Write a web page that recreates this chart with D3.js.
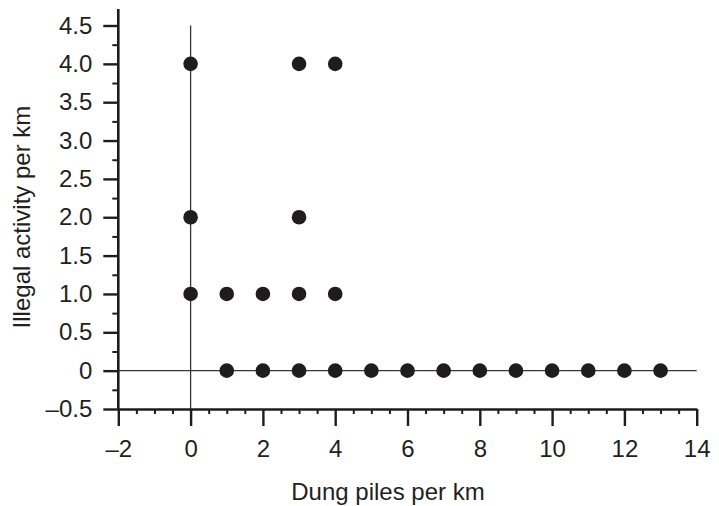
<!DOCTYPE html>
<html>
<head>
<meta charset="utf-8">
<script src="https://cdn.jsdelivr.net/npm/d3@7"></script>
<style>
  body { margin: 0; background: #fff; }
  text { font-family: "Liberation Sans", Arial, sans-serif; fill: #231f20; }
</style>
</head>
<body>
<div id="chart"></div>
<script>
var svgWidth = 719;
var svgHeight = 506;

// Data
var dungPiles = [0, 3, 4, 0, 3, 0, 1, 2, 3, 4, 1, 2, 3, 4, 5, 6, 7, 8, 9, 10, 11, 12, 13];
var illegalActivity = [4, 4, 4, 2, 2, 1, 1, 1, 1, 1, 0, 0, 0, 0, 0, 0, 0, 0, 0, 0, 0, 0, 0];

var xTicks = [-2, 0, 2, 4, 6, 8, 10, 12, 14];
var xTickLabels = ["\u20132", "0", "2", "4", "6", "8", "10", "12", "14"];
var yTicks = [-0.5, 0, 0.5, 1, 1.5, 2, 2.5, 3, 3.5, 4, 4.5];
var yTickLabels = ["\u20130.5", "0", "0.5", "1.0", "1.5", "2.0", "2.5", "3.0", "3.5", "4.0", "4.5"];

var points = dungPiles.map(function(d, i) {
  return { x: d, y: illegalActivity[i] };
});

var svg = d3.select("#chart")
  .append("svg")
  .attr("width", svgWidth)
  .attr("height", svgHeight);

var xScale = d3.scaleLinear().domain([-2, 14]).range([118.3, 696.7]);
var yScale = d3.scaleLinear().domain([-0.5, 4.5]).range([409, 25.5]);

var ink = "#1f1c1d";
var fontSize = 24;

// reference lines through the origin
svg.append("line")
  .attr("x1", xScale(0)).attr("x2", xScale(0))
  .attr("y1", yScale(4.5)).attr("y2", yScale(-0.5))
  .attr("stroke", "#3a3738").attr("stroke-width", 1.3);

svg.append("line")
  .attr("x1", xScale(-2)).attr("x2", xScale(14))
  .attr("y1", yScale(0)).attr("y2", yScale(0))
  .attr("stroke", "#3a3738").attr("stroke-width", 1.3);

// minor ticks
var xMinor = d3.range(-2, 14.01, 0.5).filter(function(v) { return v % 2 !== 0; });
var yMinor = d3.range(-0.5, 4.51, 0.25).filter(function(v) { return Math.abs(v * 2 - Math.round(v * 2)) > 0.01; });

svg.append("g")
  .attr("transform", "translate(0," + yScale(-0.5) + ")")
  .call(d3.axisBottom(xScale).tickValues(xMinor).tickSize(5).tickFormat(""))
  .call(function(g) {
    g.select(".domain").remove();
    g.selectAll("line").attr("stroke", ink).attr("stroke-width", 2);
  });

svg.append("g")
  .attr("transform", "translate(" + xScale(-2) + ",0)")
  .call(d3.axisLeft(yScale).tickValues(yMinor).tickSize(6).tickFormat(""))
  .call(function(g) {
    g.select(".domain").remove();
    g.selectAll("line").attr("stroke", ink).attr("stroke-width", 2);
  });

// major axes
var xAxis = svg.append("g")
  .attr("transform", "translate(0," + yScale(-0.5) + ")")
  .call(d3.axisBottom(xScale)
    .tickValues(xTicks)
    .tickSize(17)
    .tickSizeOuter(0)
    .tickPadding(14)
    .tickFormat(function(d, i) { return xTickLabels[i]; }));

xAxis.select(".domain").attr("stroke", ink).attr("stroke-width", 2.6);
xAxis.selectAll(".tick line").attr("stroke", ink).attr("stroke-width", 2.4);
xAxis.selectAll(".tick text")
  .attr("font-size", fontSize)
  .attr("font-family", "Liberation Sans, Arial, sans-serif")
  .attr("fill", "#231f20");

var yAxis = svg.append("g")
  .attr("transform", "translate(" + xScale(-2) + ",0)")
  .call(d3.axisLeft(yScale)
    .tickValues(yTicks)
    .tickSize(15)
    .tickSizeOuter(0)
    .tickPadding(11)
    .tickFormat(function(d, i) { return yTickLabels[i]; }));

yAxis.select(".domain").remove();
yAxis.append("line")
  .attr("x1", 0).attr("x2", 0)
  .attr("y1", 9).attr("y2", yScale(-0.5) + 1)
  .attr("stroke", ink).attr("stroke-width", 2.6);
yAxis.selectAll(".tick line").attr("stroke", ink).attr("stroke-width", 2.4);
yAxis.selectAll(".tick text")
  .attr("font-size", fontSize)
  .attr("font-family", "Liberation Sans, Arial, sans-serif")
  .attr("fill", "#231f20");

// points
svg.append("g")
  .selectAll("circle")
  .data(points)
  .enter()
  .append("circle")
  .attr("cx", function(d) { return xScale(d.x); })
  .attr("cy", function(d) { return yScale(d.y); })
  .attr("r", 7.3)
  .attr("fill", ink);

// axis titles
svg.append("text")
  .attr("x", 388)
  .attr("y", 500)
  .attr("text-anchor", "middle")
  .attr("font-size", fontSize)
  .text("Dung piles per km");

svg.append("text")
  .attr("transform", "translate(30,217) rotate(-90)")
  .attr("text-anchor", "middle")
  .attr("font-size", fontSize)
  .text("Illegal activity per km");
</script>
</body>
</html>
